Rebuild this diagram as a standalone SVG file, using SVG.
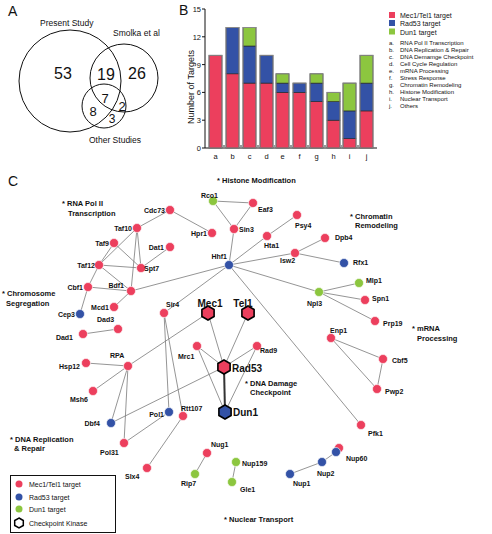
<svg xmlns="http://www.w3.org/2000/svg" width="492" height="534" viewBox="0 0 492 534">
<style>
text{font-family:"Liberation Sans",Arial,sans-serif;fill:#111}
.pl{font-size:14px}
.num{font-size:16px}
.vl{font-size:8.5px}
.ax{font-size:7.5px}
.lg{font-size:7px}
.ls{font-size:6px}
.nl{font-size:7px;font-weight:bold}
.cat{font-size:7.5px;font-weight:bold}
.kin{font-size:10px;font-weight:bold}
.r{fill:#ec3f5d}
.b{fill:#3352a6}
.g{fill:#8cc63f}
.seg{stroke:#222;stroke-width:0.6}
.out{fill:none;stroke:#8a8a8a;stroke-width:1}
.e{stroke:#7a7a7a;stroke-width:0.8;fill:none}
.n{stroke:#fff;stroke-width:0.6}
.hx{stroke:#000;stroke-width:1.6}
</style>
<defs>
<path id="hex" d="M0,-7 L6.1,-3.5 L6.1,3.5 L0,7 L-6.1,3.5 L-6.1,-3.5 Z"/>
</defs>

<!-- Panel A -->
<g id="panelA">
<text class="pl" x="8" y="16">A</text>
<circle cx="70" cy="81" r="51" fill="none" stroke="#111" stroke-width="1"/>
<circle cx="124" cy="78" r="34" fill="none" stroke="#111" stroke-width="1"/>
<circle cx="104" cy="106" r="22" fill="none" stroke="#111" stroke-width="1"/>
<text class="vl" x="40" y="26">Present Study</text>
<text class="vl" x="113" y="36">Smolka et al</text>
<text class="vl" x="89" y="143">Other Studies</text>
<text class="num" x="63" y="79" text-anchor="middle">53</text>
<text class="num" x="106" y="80" text-anchor="middle">19</text>
<text class="num" x="137" y="79" text-anchor="middle">26</text>
<text class="num" x="105" y="103" font-size="13" text-anchor="middle" style="font-size:13px">7</text>
<text class="num" x="122" y="111" style="font-size:13px" text-anchor="middle">2</text>
<text class="num" x="93" y="116" style="font-size:13px" text-anchor="middle">8</text>
<text class="num" x="112" y="123" style="font-size:12px" text-anchor="middle">3</text>
</g>

<!-- Panel B -->
<g id="panelB">
<text class="pl" x="179" y="15">B</text>
<line x1="205" y1="9" x2="205" y2="148" stroke="#111" stroke-width="1"/>
<line x1="205" y1="148" x2="377" y2="148" stroke="#111" stroke-width="1"/>
<g stroke="#111" stroke-width="1">
<line x1="202" y1="9" x2="205" y2="9"/><line x1="202" y1="36.8" x2="205" y2="36.8"/><line x1="202" y1="64.6" x2="205" y2="64.6"/><line x1="202" y1="92.4" x2="205" y2="92.4"/><line x1="202" y1="120.2" x2="205" y2="120.2"/><line x1="202" y1="148" x2="205" y2="148"/>
</g>
<g class="ax" text-anchor="end">
<text x="201" y="12">15</text><text x="201" y="39.5">12</text><text x="201" y="67.5">9</text><text x="201" y="95">6</text><text x="201" y="123">3</text><text x="201" y="151">0</text>
</g>
<text x="194" y="87" transform="rotate(-90 194 87)" text-anchor="middle" style="font-size:9px">Number of Targets</text>
<!-- bars -->
<g class="seg">
<rect class="r" x="209" y="55.3" width="13" height="92.7"/>
<rect class="r" x="226" y="73.8" width="13" height="74.2"/><rect class="b" x="226" y="27.5" width="13" height="46.3"/>
<rect class="r" x="243" y="83.1" width="13" height="64.9"/><rect class="b" x="243" y="46" width="13" height="37.1"/><rect class="g" x="243" y="27.5" width="13" height="18.5"/>
<rect class="r" x="260" y="83.1" width="13" height="64.9"/><rect class="b" x="260" y="55.3" width="13" height="27.8"/>
<rect class="r" x="276" y="92.4" width="13" height="55.6"/><rect class="b" x="276" y="83.1" width="13" height="9.3"/><rect class="g" x="276" y="73.8" width="13" height="9.3"/>
<rect class="r" x="293" y="92.4" width="13" height="55.6"/><rect class="b" x="293" y="83.1" width="13" height="9.3"/>
<rect class="r" x="310" y="101.6" width="13" height="46.4"/><rect class="b" x="310" y="83.1" width="13" height="18.5"/><rect class="g" x="310" y="73.8" width="13" height="9.3"/>
<rect class="r" x="327" y="120.2" width="13" height="27.8"/><rect class="b" x="327" y="101.6" width="13" height="18.6"/><rect class="g" x="327" y="92.4" width="13" height="9.2"/>
<rect class="r" x="343" y="138.7" width="13" height="9.3"/><rect class="b" x="343" y="110.9" width="13" height="27.8"/><rect class="g" x="343" y="83.1" width="13" height="27.8"/>
<rect class="r" x="360" y="110.9" width="13" height="37.1"/><rect class="b" x="360" y="83.1" width="13" height="27.8"/><rect class="g" x="360" y="55.3" width="13" height="27.8"/>
</g>
<g class="out">
<rect x="209" y="55.3" width="13" height="92.7"/><rect x="226" y="27.5" width="13" height="120.5"/><rect x="243" y="27.5" width="13" height="120.5"/><rect x="260" y="55.3" width="13" height="92.7"/><rect x="276" y="73.8" width="13" height="74.2"/><rect x="293" y="83.1" width="13" height="64.9"/><rect x="310" y="73.8" width="13" height="74.2"/><rect x="327" y="92.4" width="13" height="55.6"/><rect x="343" y="83.1" width="13" height="64.9"/><rect x="360" y="55.3" width="13" height="92.7"/>
</g>
<g fill="#999">
<rect x="223" y="145" width="2" height="2"/><rect x="240" y="145" width="2" height="2"/><rect x="257" y="145" width="2" height="2"/><rect x="273.5" y="145" width="2" height="2"/><rect x="290" y="145" width="2" height="2"/><rect x="307" y="145" width="2" height="2"/><rect x="324" y="145" width="2" height="2"/><rect x="340.5" y="145" width="2" height="2"/><rect x="357" y="145" width="2" height="2"/>
</g>
<g class="ax" text-anchor="middle">
<text x="215.5" y="159">a</text><text x="232.5" y="159">b</text><text x="249.5" y="159">c</text><text x="266.5" y="159">d</text><text x="282.5" y="159">e</text><text x="299.5" y="159">f</text><text x="316.5" y="159">g</text><text x="333.5" y="159">h</text><text x="349.5" y="159">i</text><text x="366.5" y="159">j</text>
</g>
<!-- legend -->
<rect class="r" x="389" y="12" width="6" height="6"/>
<rect class="b" x="389" y="20" width="6" height="6"/>
<rect class="g" x="389" y="28.5" width="6" height="6"/>
<text class="lg" x="400" y="18">Mec1/Tel1 target</text>
<text class="lg" x="400" y="26">Rad53 target</text>
<text class="lg" x="400" y="34.5">Dun1 target</text>
<g class="ls">
<text x="389" y="45">a.</text><text x="400" y="45">RNA Pol II Transcription</text>
<text x="389" y="52">b.</text><text x="400" y="52">DNA Replication &amp; Repair</text>
<text x="389" y="59">c.</text><text x="400" y="59">DNA Demamge Checkpoint</text>
<text x="389" y="66">d.</text><text x="400" y="66">Cell Cycle Regulation</text>
<text x="389" y="73">e.</text><text x="400" y="73">mRNA Processing</text>
<text x="389" y="80">f.</text><text x="400" y="80">Stress Response</text>
<text x="389" y="87">g.</text><text x="400" y="87">Chromatin Remodeling</text>
<text x="389" y="94">h.</text><text x="400" y="94">Histone Modification</text>
<text x="389" y="101">i.</text><text x="400" y="101">Nuclear Transport</text>
<text x="389" y="108">j.</text><text x="400" y="108">Others</text>
</g>
</g>

<!-- Panel C -->
<text class="pl" x="8" y="186">C</text>

<g id="connectors">
<g class="e">
<line x1="213" y1="201" x2="253" y2="203"/>
<line x1="213" y1="201" x2="234" y2="229"/>
<line x1="253" y1="203" x2="234" y2="229"/>
<line x1="234" y1="229" x2="229" y2="265"/>
<line x1="170" y1="210" x2="212" y2="233"/>
<line x1="170" y1="210" x2="137" y2="228"/>
<line x1="137" y1="228" x2="99" y2="265"/>
<line x1="137" y1="228" x2="141" y2="268"/>
<line x1="137" y1="228" x2="131" y2="291"/>
<line x1="114" y1="243" x2="99" y2="265"/>
<line x1="114" y1="243" x2="141" y2="268"/>
<line x1="99" y1="265" x2="141" y2="268"/>
<line x1="99" y1="265" x2="131" y2="291"/>
<line x1="99" y1="265" x2="88" y2="287"/>
<line x1="170" y1="247" x2="141" y2="268"/>
<line x1="88" y1="287" x2="131" y2="291"/>
<line x1="88" y1="287" x2="80" y2="314"/>
<line x1="131" y1="291" x2="114" y2="307"/>
<line x1="131" y1="291" x2="229" y2="265"/>
<line x1="229" y1="265" x2="267" y2="236"/>
<line x1="267" y1="236" x2="297" y2="215"/>
<line x1="229" y1="265" x2="295" y2="253"/>
<line x1="295" y1="253" x2="325" y2="238"/>
<line x1="295" y1="253" x2="344" y2="263"/>
<line x1="229" y1="265" x2="319" y2="292"/>
<line x1="319" y1="292" x2="359" y2="283"/>
<line x1="319" y1="292" x2="365" y2="300"/>
<line x1="319" y1="292" x2="375" y2="321"/>
<line x1="229" y1="265" x2="164" y2="313"/>
<line x1="229" y1="265" x2="361" y2="425"/>
<line x1="164" y1="313" x2="169" y2="412"/>
<line x1="164" y1="313" x2="183" y2="416"/>
<line x1="208" y1="313" x2="128" y2="366"/>
<line x1="128" y1="366" x2="86" y2="363"/>
<line x1="128" y1="366" x2="93" y2="391"/>
<line x1="128" y1="366" x2="111" y2="423"/>
<line x1="128" y1="366" x2="124" y2="443"/>
<line x1="224" y1="367" x2="111" y2="423"/>
<line x1="169" y1="412" x2="124" y2="443"/>
<line x1="183" y1="416" x2="147" y2="468"/>
<line x1="208" y1="313" x2="224" y2="367"/>
<line x1="248" y1="313" x2="224" y2="367"/>
<line x1="197" y1="346" x2="224" y2="367"/>
<line x1="197" y1="346" x2="225" y2="412"/>
<line x1="257" y1="346" x2="224" y2="367"/>
<line x1="257" y1="346" x2="225" y2="412"/>
<line x1="331" y1="338" x2="383" y2="359"/>
<line x1="331" y1="338" x2="377" y2="389"/>
<line x1="383" y1="359" x2="377" y2="389"/>
<line x1="207" y1="453" x2="195" y2="474"/>
<line x1="236" y1="462" x2="232" y2="482"/>
<line x1="290" y1="474" x2="322" y2="462"/>
<line x1="322" y1="462" x2="336" y2="452"/>
<line x1="83" y1="334" x2="118" y2="329"/>
</g>
<line x1="224" y1="367" x2="225" y2="412" stroke="#333" stroke-width="2"/>
</g>

<g id="nodes">
<g id="n-Rco1"><circle class="g n" cx="213" cy="201" r="4.5"/><text class="nl" x="218" y="198" text-anchor="end">Rco1</text></g>
<g id="n-Eaf3"><circle class="r n" cx="253" cy="203" r="4.5"/><text class="nl" x="258" y="212">Eaf3</text></g>
<g id="n-Sin3"><circle class="r n" cx="234" cy="229" r="4.5"/><text class="nl" x="239" y="232">Sin3</text></g>
<g id="n-Hpr1"><circle class="r n" cx="212" cy="233" r="4.5"/><text class="nl" x="207" y="236" text-anchor="end">Hpr1</text></g>
<g id="n-Cdc73"><circle class="r n" cx="170" cy="210" r="4.5"/><text class="nl" x="165" y="213" text-anchor="end">Cdc73</text></g>
<g id="n-Dat1"><circle class="r n" cx="170" cy="247" r="4.5"/><text class="nl" x="164" y="250" text-anchor="end">Dat1</text></g>
<g id="n-Taf10"><circle class="r n" cx="137" cy="228" r="4.5"/><text class="nl" x="132" y="231" text-anchor="end">Taf10</text></g>
<g id="n-Taf9"><circle class="r n" cx="114" cy="243" r="4.5"/><text class="nl" x="109" y="246" text-anchor="end">Taf9</text></g>
<g id="n-Taf12"><circle class="r n" cx="99" cy="265" r="4.5"/><text class="nl" x="95" y="268" text-anchor="end">Taf12</text></g>
<g id="n-Spt7"><circle class="r n" cx="141" cy="268" r="4.5"/><text class="nl" x="144" y="271">Spt7</text></g>
<g id="n-Cbf1"><circle class="r n" cx="88" cy="287" r="4.5"/><text class="nl" x="83" y="290" text-anchor="end">Cbf1</text></g>
<g id="n-Bdf1"><circle class="r n" cx="131" cy="291" r="4.5"/><text class="nl" x="124" y="288" text-anchor="end">Bdf1</text></g>
<g id="n-Hta1"><circle class="r n" cx="267" cy="236" r="4.5"/><text class="nl" x="264" y="248">Hta1</text></g>
<g id="n-Psy4"><circle class="r n" cx="297" cy="215" r="4.5"/><text class="nl" x="295" y="228">Psy4</text></g>
<g id="n-Isw2"><circle class="r n" cx="295" cy="253" r="4.5"/><text class="nl" x="280" y="263">Isw2</text></g>
<g id="n-Dpb4"><circle class="r n" cx="325" cy="238" r="4.5"/><text class="nl" x="335" y="240">Dpb4</text></g>
<g id="n-Hhf1"><circle class="b n" cx="229" cy="265" r="4.5"/><text class="nl" x="227" y="259" text-anchor="end">Hhf1</text></g>
<g id="n-Rfx1"><circle class="b n" cx="344" cy="263" r="4.5"/><text class="nl" x="353" y="265">Rfx1</text></g>
<g id="n-Npl3"><circle class="g n" cx="319" cy="292" r="4.5"/><text class="nl" x="307" y="306">Npl3</text></g>
<g id="n-Mlp1"><circle class="g n" cx="359" cy="283" r="4.5"/><text class="nl" x="366" y="283">Mlp1</text></g>
<g id="n-Spn1"><circle class="r n" cx="365" cy="300" r="4.5"/><text class="nl" x="372" y="301">Spn1</text></g>
<g id="n-Prp19"><circle class="r n" cx="375" cy="321" r="4.5"/><text class="nl" x="383" y="326">Prp19</text></g>
<g id="n-Enp1"><circle class="r n" cx="331" cy="338" r="4.5"/><text class="nl" x="330" y="333">Enp1</text></g>
<g id="n-Cbf5"><circle class="r n" cx="383" cy="359" r="4.5"/><text class="nl" x="392" y="363">Cbf5</text></g>
<g id="n-Pwp2"><circle class="r n" cx="377" cy="389" r="4.5"/><text class="nl" x="385" y="394">Pwp2</text></g>
<g id="n-Pfk1"><circle class="r n" cx="361" cy="425" r="4.5"/><text class="nl" x="368" y="436">Pfk1</text></g>
<g id="n-Nup60"><circle class="r n" cx="339" cy="448" r="4.5"/><circle class="b n" cx="336" cy="452" r="4.5"/><text class="nl" x="346" y="461">Nup60</text></g>
<g id="n-Nup2"><circle class="b n" cx="322" cy="462" r="4.5"/><text class="nl" x="317" y="476">Nup2</text></g>
<g id="n-Nup1"><circle class="b n" cx="290" cy="474" r="4.5"/><text class="nl" x="293" y="486">Nup1</text></g>
<g id="n-Nup159"><circle class="g n" cx="236" cy="462" r="4.5"/><text class="nl" x="242" y="466">Nup159</text></g>
<g id="n-Gle1"><circle class="g n" cx="232" cy="482" r="4.5"/><text class="nl" x="240" y="492">Gle1</text></g>
<g id="n-Nug1"><circle class="r n" cx="207" cy="453" r="4.5"/><text class="nl" x="211" y="447">Nug1</text></g>
<g id="n-Rip7"><circle class="g n" cx="195" cy="474" r="4.5"/><text class="nl" x="181" y="486">Rip7</text></g>
<g id="n-Slx4"><circle class="r n" cx="147" cy="468" r="4.5"/><text class="nl" x="125" y="479">Slx4</text></g>
<g id="n-Pol31"><circle class="r n" cx="124" cy="443" r="4.5"/><text class="nl" x="100" y="455">Pol31</text></g>
<g id="n-Dbf4"><circle class="b n" cx="111" cy="423" r="4.5"/><text class="nl" x="100" y="426" text-anchor="end">Dbf4</text></g>
<g id="n-Pol1"><circle class="b n" cx="169" cy="412" r="4.5"/><text class="nl" x="164" y="417" text-anchor="end">Pol1</text></g>
<g id="n-Rtt107"><circle class="r n" cx="183" cy="416" r="4.5"/><text class="nl" x="181" y="411">Rtt107</text></g>
<g id="n-Mrc1"><circle class="r n" cx="197" cy="346" r="4.5"/><text class="nl" x="178" y="359">Mrc1</text></g>
<g id="n-Rad9"><circle class="r n" cx="257" cy="346" r="4.5"/><text class="nl" x="260" y="353">Rad9</text></g>
<g id="n-Sir4"><circle class="r n" cx="164" cy="313" r="4.5"/><text class="nl" x="166" y="307">Sir4</text></g>
<g id="n-Cep3"><circle class="b n" cx="80" cy="314" r="4.5"/><text class="nl" x="75" y="317" text-anchor="end">Cep3</text></g>
<g id="n-Mcd1"><circle class="r n" cx="114" cy="307" r="4.5"/><text class="nl" x="109" y="310" text-anchor="end">Mcd1</text></g>
<g id="n-Dad3"><circle class="r n" cx="118" cy="329" r="4.5"/><text class="nl" x="97" y="322">Dad3</text></g>
<g id="n-Dad1"><circle class="r n" cx="83" cy="334" r="4.5"/><text class="nl" x="73" y="340" text-anchor="end">Dad1</text></g>
<g id="n-RPA"><circle class="r n" cx="128" cy="366" r="4.5"/><text class="nl" x="110" y="358">RPA</text></g>
<g id="n-Hsp12"><circle class="r n" cx="86" cy="363" r="4.5"/><text class="nl" x="80" y="369" text-anchor="end">Hsp12</text></g>
<g id="n-Msh6"><circle class="r n" cx="93" cy="391" r="4.5"/><text class="nl" x="70" y="402">Msh6</text></g>
<g id="n-Mec1"><use href="#hex" class="r hx" x="208" y="313"/><text class="kin" x="210" y="307" text-anchor="middle">Mec1</text></g>
<g id="n-Tel1"><use href="#hex" class="r hx" x="248" y="313"/><text class="kin" x="243" y="307" text-anchor="middle">Tel1</text></g>
<g id="n-Rad53"><use href="#hex" class="r hx" x="224" y="367"/><text class="kin" x="232" y="371.5">Rad53</text></g>
<g id="n-Dun1"><use href="#hex" class="b hx" x="225" y="412"/><text class="kin" x="233" y="416">Dun1</text></g>
</g>

<g id="categories" class="cat">
<text x="62" y="206">* RNA Pol II</text><text x="68" y="216">Transcription</text>
<text x="217" y="183">* Histone Modification</text>
<text x="350" y="219">* Chromatin</text><text x="355" y="228">Remodeling</text>
<text x="2" y="296">* Chromosome</text><text x="6" y="306">Segregation</text>
<text x="412" y="331">* mRNA</text><text x="417" y="341">Processing</text>
<text x="245" y="386">* DNA Damage</text><text x="250" y="395">Checkpoint</text>
<text x="10" y="442">* DNA Replication</text><text x="14" y="451">&amp; Repair</text>
<text x="224" y="522">* Nuclear Transport</text>
</g>

<g id="legendC">
<rect x="10.5" y="475.5" width="105" height="57" fill="none" stroke="#111" stroke-width="1"/>
<circle class="r" cx="19" cy="484" r="3.5"/><text class="lg" x="29" y="487">Mec1/Tel1 target</text>
<circle class="b" cx="19" cy="497" r="3.5"/><text class="lg" x="29" y="499.5">Rad53 target</text>
<circle class="g" cx="19" cy="509" r="3.5"/><text class="lg" x="29" y="511.5">Dun1 target</text>
<path d="M19,518 L23.3,520.5 L23.3,525.5 L19,528 L14.7,525.5 L14.7,520.5 Z" fill="#fff" stroke="#000" stroke-width="1.5"/>
<text class="lg" x="29" y="525.5">Checkpoint Kinase</text>
</g>
</svg>
